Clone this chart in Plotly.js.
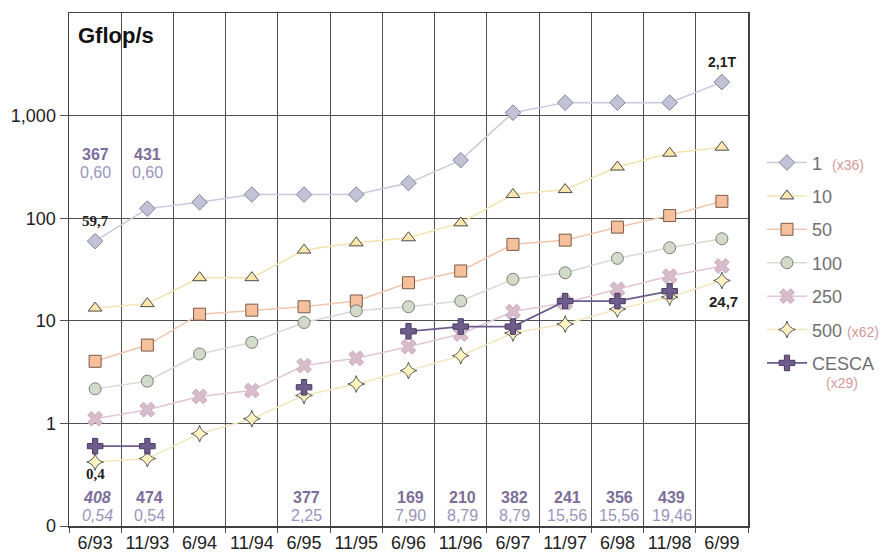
<!DOCTYPE html>
<html><head><meta charset="utf-8">
<script src="https://cdn.plot.ly/plotly-3.0.1.min.js"></script>
<style>html,body{margin:0;padding:0;background:#fff}</style>
</head><body><div id="chart" style="width:882px;height:552px"></div>
<script>
const categories = ["6/93","11/93","6/94","11/94","6/95","11/95","6/96","11/96","6/97","11/97","6/98","11/98","6/99"];
const rank1   = [59.7, 124, 143, 170, 170, 170, 220, 368, 1068, 1338, 1338, 1338, 2121];
const rank10  = [13.3, 14.7, 26.3, 26.3, 48.9, 57.5, 64.4, 90, 170, 190, 315, 430, 492];
const rank50  = [4.03, 5.8, 11.6, 12.7, 13.7, 15.6, 23.5, 30.6, 55.6, 61.1, 81.8, 106, 146];
const rank100 = [2.17, 2.58, 4.75, 6.16, 9.63, 12.5, 13.7, 15.6, 25.4, 29.4, 40.6, 51.5, 63.0];
const rank250 = [1.11, 1.36, 1.83, 2.09, 3.66, 4.31, 5.59, 7.43, 12.3, 15.0, 20.3, 27.3, 34.2];
const rank500 = [0.42, 0.454, 0.794, 1.11, 1.87, 2.42, 3.27, 4.57, 7.6, 9.29, 13.0, 17.0, 24.7];
const cesca   = [0.60, 0.60, null, null, 2.25, null, 7.90, 8.79, 8.79, 15.56, 15.56, 19.46, null];

const topCountCats = [0, 1];
const topCounts = ["367", "431"];
const topValues = ["0,60", "0,60"];
const botCountCats = [0, 1, 4, 6, 7, 8, 9, 10, 11];
const botCounts = ["408", "474", "377", "169", "210", "382", "241", "356", "439"];
const botValues = ["0,54", "0,54", "2,25", "7,90", "8,79", "8,79", "15,56", "15,56", "19,46"];

const seriesNames = ["1&nbsp;&nbsp;<span style='color:#d49a9a;font-size:14px'>(x36)</span>", "10", "50", "100", "250",
  "500&nbsp;<span style='color:#d49a9a;font-size:14px'>(x62)</span>", "CESCA"];
const seriesData = [rank1, rank10, rank50, rank100, rank250, rank500, cesca];
const lineColors = ["#c9c9de", "#f3e3ae", "#f0c6ae", "#d6dbd2", "#e0c6d6", "#f4e6bc", "#6e5c8c"];
const fillColors = ["#c2c2d6", "#fbe6ad", "#f6c09c", "#d2dbca", "#d9bccb", "#fdf2c0", "#6e5c8c"];
const edgeColors = ["#85859c", "#4a4a4a", "#7a5a48", "#7a7f78", "#c8a8b8", "#5a5a5a", "#4a3a62"];
const symbols = ["diamond", "triangle-up", "square", "circle", "x", "star-diamond", "cross"];
const sizes = [12, 12, 12, 12, 13, 12, 13];

const traces = seriesData.map((d, i) => ({
  type: "scatter", mode: "lines+markers",
  x: categories, y: d, name: seriesNames[i],
  legendgroup: "g" + i, connectgaps: false,
  line: {color: lineColors[i], width: i === 6 ? 1.8 : 1.5},
  marker: {symbol: symbols[i], size: sizes[i], color: fillColors[i],
           line: {color: edgeColors[i], width: 1}},
  hoverinfo: "x+y"
}));

const ann = [];
const C = {showarrow: false, xanchor: "center", yanchor: "middle"};
ann.push({xref: "paper", yref: "paper", x: 0.01, y: 0.957, xanchor: "left", yanchor: "middle",
  text: "<b>Gflop/s</b>", showarrow: false, font: {size: 22, color: "#111"}});
topCountCats.forEach((c, i) => {
  ann.push(Object.assign({xref: "x", yref: "paper", x: c, y: 0.725, text: "<b>" + topCounts[i] + "</b>",
    font: {size: 16, color: "#7c6e98"}}, C));
  ann.push(Object.assign({xref: "x", yref: "paper", x: c, y: 0.690, text: topValues[i],
    font: {size: 16, color: "#9c94bc"}}, C));
});
botCountCats.forEach((c, i) => {
  const it = i === 0;
  ann.push(Object.assign({xref: "x", yref: "paper", x: c, y: 0.0565, xshift: 2,
    text: it ? "<b><i>" + botCounts[i] + "</i></b>" : "<b>" + botCounts[i] + "</b>",
    font: {size: 16, color: "#7c6e98"}}, C));
  ann.push(Object.assign({xref: "x", yref: "paper", x: c, y: 0.0214, xshift: 2,
    text: it ? "<i>" + botValues[i] + "</i>" : botValues[i],
    font: {size: 16, color: "#9c94bc"}}, C));
});
ann.push(Object.assign({xref: "x", yref: "y", x: 0, y: Math.log10(rank1[0]), yshift: 20, text: "<b>59,7</b>",
  font: {size: 15, color: "#222", family: "Liberation Serif, Times New Roman, serif"}}, C));
ann.push(Object.assign({xref: "x", yref: "y", x: 0, y: Math.log10(rank500[0]), yshift: -12, text: "<b>0,4</b>",
  font: {size: 15, color: "#222", family: "Liberation Serif, Times New Roman, serif"}}, C));
ann.push(Object.assign({xref: "x", yref: "y", x: 12, y: Math.log10(rank1[12]), yshift: 20, text: "<b>2,1T</b>",
  font: {size: 14, color: "#222"}}, C));
ann.push(Object.assign({xref: "x", yref: "y", x: 12, y: Math.log10(rank500[12]), yshift: -21, xshift: 2, text: "<b>24,7</b>",
  font: {size: 15, color: "#222"}}, C));
ann.push(Object.assign({xref: "paper", yref: "paper", x: 1.138, y: 0.279, text: "(x29)",
  font: {size: 14, color: "#d49a9a"}}, C));

const layout = {
  width: 882, height: 552,
  margin: {l: 69, r: 134, t: 13, b: 26, autoexpand: false},
  paper_bgcolor: "#fff", plot_bgcolor: "#fff",
  font: {family: "Liberation Sans, Arial, sans-serif", size: 17, color: "#222"},
  showlegend: true,
  legend: {x: 1.0206, y: 0.744, xanchor: "left", yanchor: "top", traceorder: "grouped", tracegroupgap: 7,
           font: {size: 18, color: "#707070"}, bgcolor: "rgba(0,0,0,0)", itemwidth: 40},
  xaxis: {type: "category", tickson: "boundaries", showgrid: true, gridcolor: "#505050", gridwidth: 1,
          ticks: "outside", ticklen: 5, tickcolor: "#505050", showline: true, mirror: true,
          linecolor: "#404040", linewidth: 1.5, range: [-0.5, 12.5], zeroline: false, tickangle: 0,
          tickfont: {size: 18, color: "#222"}},
  yaxis: {type: "log", range: [-1, 4], tickvals: [0.1, 1, 10, 100, 1000],
          ticktext: ["0", "1", "10", "100", "1,000"], showgrid: true, gridcolor: "#505050", gridwidth: 1,
          ticks: "outside", ticklen: 8, tickcolor: "#505050", showline: true, mirror: true,
          linecolor: "#404040", linewidth: 1.5, zeroline: false, tickfont: {size: 18, color: "#222"}},
  annotations: ann
};

Plotly.newPlot("chart", traces, layout, {displayModeBar: false, staticPlot: true});
</script></body></html>
